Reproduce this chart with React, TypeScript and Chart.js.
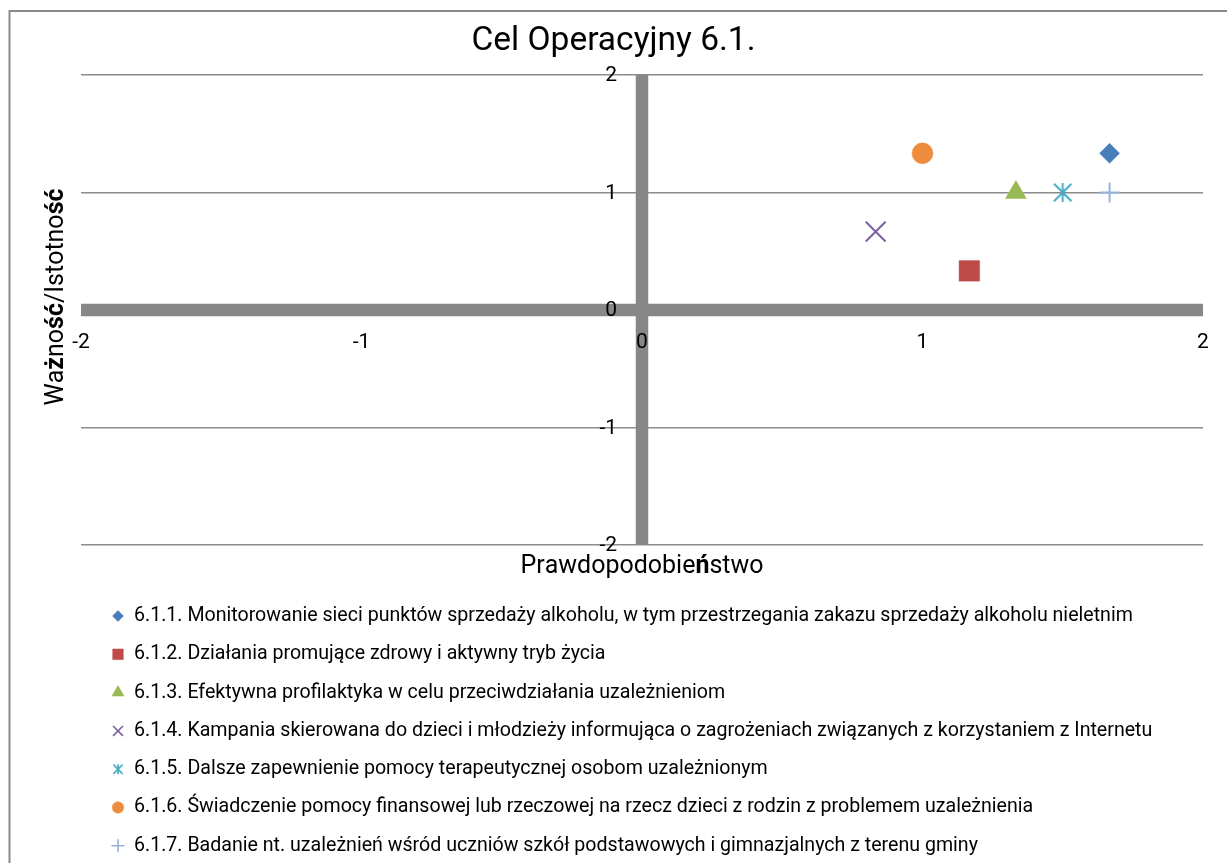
import React, { useEffect, useRef } from 'react';
import { Chart, registerables } from 'chart.js';
import * as helpers from 'chart.js/helpers';

Chart.register(...registerables);

const TITLE = 'Cel Operacyjny 6.1.';
const X_TITLE = 'Prawdopodobieństwo';
const Y_TITLE = 'Ważność/Istotność';

const SERIES_LABELS = [
  '6.1.1. Monitorowanie sieci punktów sprzedaży alkoholu, w tym przestrzegania zakazu sprzedaży alkoholu nieletnim',
  '6.1.2. Działania promujące zdrowy i aktywny tryb życia',
  '6.1.3. Efektywna profilaktyka w celu przeciwdziałania uzależnieniom',
  '6.1.4. Kampania skierowana do dzieci i młodzieży informująca o zagrożeniach związanych z korzystaniem z Internetu',
  '6.1.5. Dalsze zapewnienie pomocy terapeutycznej osobom uzależnionym',
  '6.1.6. Świadczenie pomocy finansowej lub rzeczowej na rzecz dzieci z rodzin z problemem uzależnienia',
  '6.1.7. Badanie nt. uzależnień wśród uczniów szkół podstawowych i gimnazjalnych z terenu gminy',
];
const X_VALUES = [1.667, 1.167, 1.333, 0.833, 1.5, 1.0, 1.667];
const Y_VALUES = [1.333, 0.333, 1.0, 0.667, 1.0, 1.333, 1.0];
const AXIS_MIN = -2;
const AXIS_MAX = 2;
const AXIS_STEP = 1;

const COLORS = ['#4a7ebb', '#be4b48', '#98b954', '#7d60a0', '#46aac5', '#ee8c3e', '#95b3d7'];
const FONT = 'Roboto, "Noto Sans", sans-serif';
const BOLD_CHARS = new Set(['ż', 'ś', 'ć', 'ń']);
const AXIS_LINE_COLOR = '#878787';

function makeStar(size: number, color: string, lw: number) {
  const c = document.createElement('canvas');
  c.width = size;
  c.height = size;
  const g = c.getContext('2d')!;
  const m = size / 2;
  const r = m - 1;
  const d = r * 0.92;
  g.strokeStyle = color;
  g.lineWidth = lw;
  g.beginPath();
  g.moveTo(m, m - r);
  g.lineTo(m, m + r);
  g.moveTo(m - d, m - d);
  g.lineTo(m + d, m + d);
  g.moveTo(m + d, m - d);
  g.lineTo(m - d, m + d);
  g.stroke();
  return c;
}

function drawMixed(ctx: CanvasRenderingContext2D, text: string, cx: number, cy: number, size: number) {
  const chars = [...text];
  const fonts = chars.map((ch) => `${BOLD_CHARS.has(ch) ? 'bold ' : ''}${size}px ${FONT}`);
  const widths = chars.map((ch, i) => {
    ctx.font = fonts[i];
    return ctx.measureText(ch).width;
  });
  const total = widths.reduce((a, b) => a + b, 0);
  let x = cx - total / 2;
  ctx.textAlign = 'left';
  ctx.textBaseline = 'middle';
  chars.forEach((ch, i) => {
    ctx.font = fonts[i];
    ctx.fillText(ch, x, cy);
    x += widths[i];
  });
}

export default function App() {
  const ref = useRef<HTMLCanvasElement>(null);

  useEffect(() => {
    document.body.style.margin = '0';
    document.body.style.overflow = 'hidden';
    const canvas = ref.current!;
    const starBig = makeStar(21, COLORS[4], 2);
    const starSmall = makeStar(12, COLORS[4], 1.6);

    const plotStyles: any[] = ['rectRot', 'rect', 'triangle', 'crossRot', starBig, 'circle', 'cross'];
    const plotRadii = [10, 14.5, 12, 14, 10, 10.5, 10];
    const legendStyles: any[] = ['rectRot', 'rect', 'triangle', 'crossRot', starSmall, 'circle', 'cross'];
    const legendRadii = [5.5, 7.5, 7, 7, 6, 5.8, 6.5];
    const lineStyles = [false, false, false, true, true, false, true];

    const datasets = SERIES_LABELS.map((label, i) => ({
      label,
      data: [{ x: X_VALUES[i], y: Y_VALUES[i] }],
      pointStyle: plotStyles[i],
      pointRadius: plotRadii[i],
      backgroundColor: COLORS[i],
      borderColor: COLORS[i],
      borderWidth: lineStyles[i] ? 2 : 0.5,
    }));

    const decor = {
      id: 'decor',
      beforeDraw(chart: any) {
        const ctx = chart.ctx as CanvasRenderingContext2D;
        ctx.save();
        ctx.fillStyle = '#ffffff';
        ctx.fillRect(0, 0, chart.width, chart.height);
        ctx.strokeStyle = '#8a8a8a';
        ctx.lineWidth = 2;
        ctx.strokeRect(9.5, 11, chart.width + 50, chart.height + 50);
        ctx.restore();
      },
      beforeDatasetsDraw(chart: any) {
        const ctx = chart.ctx as CanvasRenderingContext2D;
        const area = chart.chartArea;
        const xs = chart.scales.x;
        const ys = chart.scales.y;
        const x0 = xs.getPixelForValue(0);
        const y0 = ys.getPixelForValue(0);
        ctx.save();
        ctx.strokeStyle = AXIS_LINE_COLOR;
        ctx.lineWidth = 12.5;
        ctx.beginPath();
        ctx.moveTo(area.left, y0);
        ctx.lineTo(area.right, y0);
        ctx.moveTo(x0, area.top);
        ctx.lineTo(x0, area.bottom);
        ctx.stroke();
        ctx.fillStyle = '#000000';
        ctx.font = `21px ${FONT}`;
        ctx.textBaseline = 'middle';
        // y tick labels beside the vertical axis
        ctx.textAlign = 'right';
        ys.ticks.forEach((t: any) => {
          ctx.fillText(String(t.value), x0 - 25, ys.getPixelForValue(t.value) + 1);
        });
        // x tick labels below the horizontal axis
        ctx.textAlign = 'center';
        xs.ticks.forEach((t: any) => {
          ctx.fillText(String(t.value), xs.getPixelForValue(t.value), y0 + 33);
        });
        ctx.restore();
      },
      afterDraw(chart: any) {
        const ctx = chart.ctx as CanvasRenderingContext2D;
        const area = chart.chartArea;
        ctx.save();
        ctx.fillStyle = '#000000';
        ctx.font = `33.5px ${FONT}`;
        ctx.textAlign = 'center';
        ctx.textBaseline = 'middle';
        ctx.fillText(TITLE, chart.width / 2, 42);

        drawMixed(ctx, X_TITLE, (area.left + area.right) / 2, area.bottom + 22, 25);

        ctx.save();
        ctx.translate(57, 297);
        ctx.rotate(-Math.PI / 2);
        drawMixed(ctx, Y_TITLE, 0, 0, 25);
        ctx.restore();

        const startY = area.bottom + 71;
        const rowH = 38.3;
        chart.data.datasets.forEach((ds: any, i: number) => {
          const y = startY + i * rowH;
          ctx.fillStyle = COLORS[i];
          ctx.strokeStyle = COLORS[i];
          ctx.lineWidth = lineStyles[i] ? 1.6 : 0.5;
          helpers.drawPoint(ctx, { pointStyle: legendStyles[i], radius: legendRadii[i], borderWidth: ctx.lineWidth, rotation: 0 } as any, 118, y);
          ctx.fillStyle = '#000000';
          ctx.font = `19.6px ${FONT}`;
          ctx.textAlign = 'left';
          ctx.textBaseline = 'middle';
          ctx.fillText(ds.label, 134, y);
        });
        ctx.restore();
      },
    };

    const chart = new Chart(canvas, {
      type: 'scatter',
      data: { datasets },
      options: {
        animation: false,
        responsive: false,
        devicePixelRatio: 1,
        events: [],
        layout: { padding: { left: 81, right: 24, top: 75, bottom: 318 } },
        plugins: { legend: { display: false }, title: { display: false }, tooltip: { enabled: false } },
        scales: {
          x: {
            type: 'linear',
            position: { y: 0 } as any,
            min: AXIS_MIN,
            max: AXIS_MAX,
            ticks: { display: false, stepSize: AXIS_STEP },
            grid: { display: false, drawTicks: false },
            border: { display: false },
          },
          y: {
            type: 'linear',
            position: { x: 0 } as any,
            min: AXIS_MIN,
            max: AXIS_MAX,
            ticks: { display: false, stepSize: AXIS_STEP },
            grid: { display: true, drawTicks: false, color: '#8c8c8c', lineWidth: 1.5 },
            border: { display: false },
          },
        },
      },
      plugins: [decor],
    });
    return () => chart.destroy();
  }, []);

  return (
    <div style={{ width: 1227, height: 863 }}>
      <canvas ref={ref} width={1227} height={863} style={{ display: 'block' }} />
    </div>
  );
}
